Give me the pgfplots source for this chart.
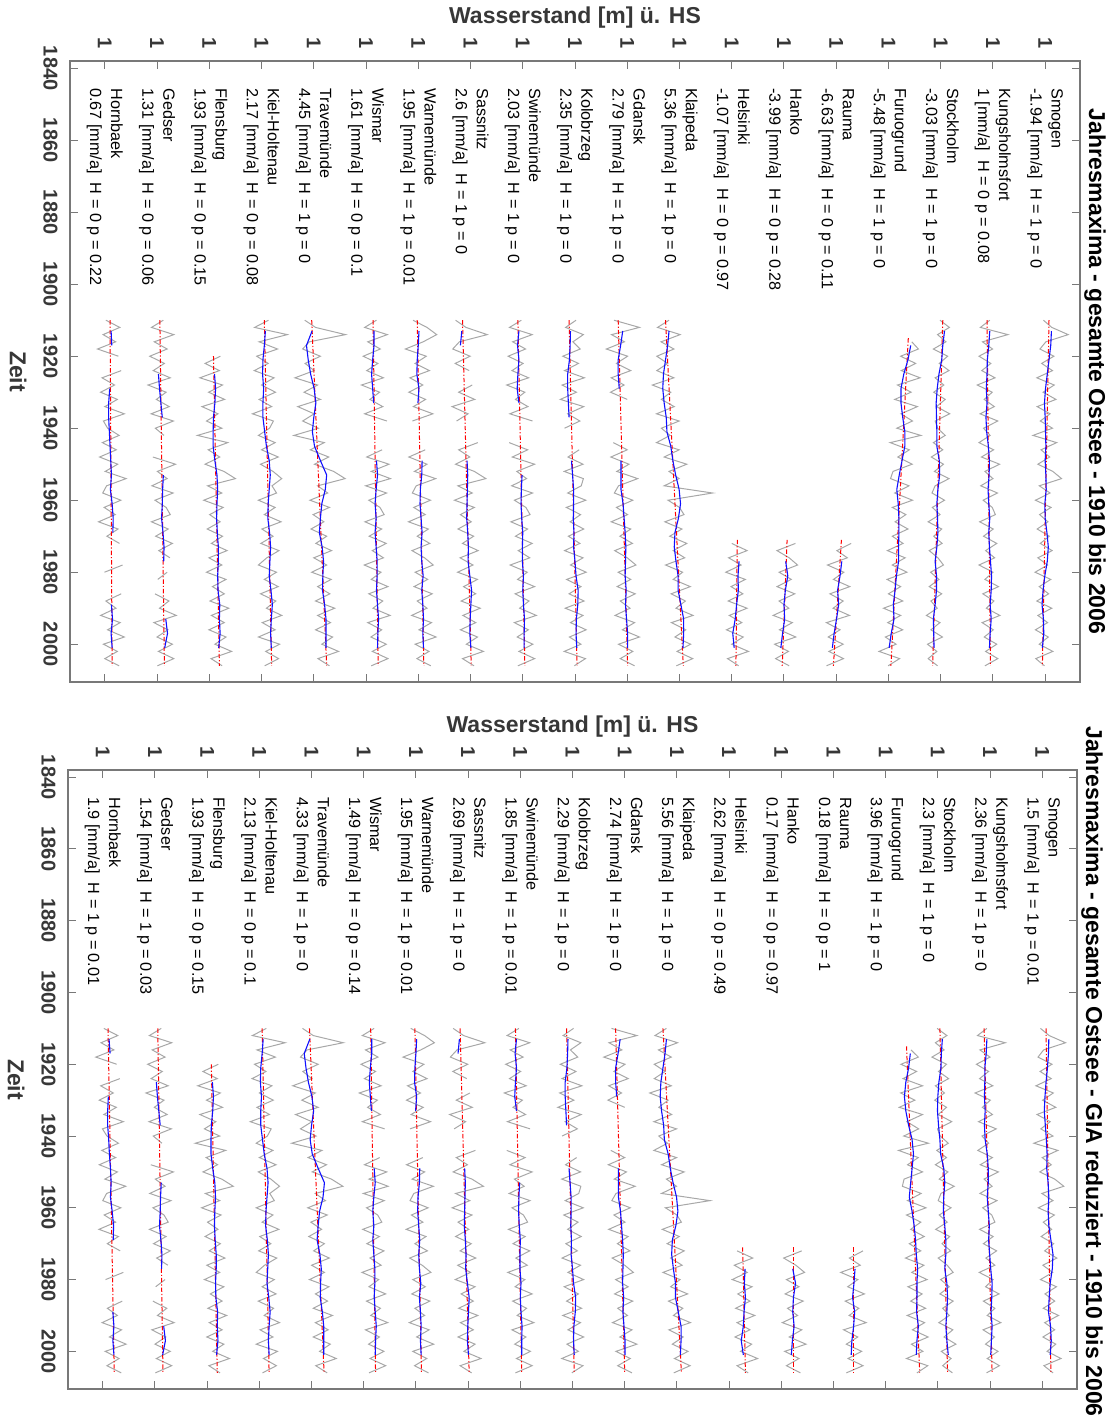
\documentclass[border=0pt]{standalone}
\usepackage{pgfplots}
\pgfplotsset{compat=1.18}
\usepackage{pgfplotstable}
\usepackage{fontspec}
\setmainfont{Liberation Sans}
\definecolor{gdat}{RGB}{168,168,168}
\definecolor{bdat}{RGB}{15,15,255}
\definecolor{rdat}{RGB}{255,0,0}
\definecolor{axc}{RGB}{120,120,120}
\definecolor{txc}{RGB}{55,55,55}

% annual maxima [cm], upper panel (every 2nd year)
\pgfplotstableread{
yr Hb Ge Fl Ki Tr Wi Wa Sa Sw Ko Gd Kl He Ha Ra Fu St Ku Sm
1910 103 118 nan 120 74 130 85 57 96 103 62 70 nan nan nan nan 98 91 95
1912 143 84 nan 80 105 96 125 87 62 73 135 37 nan nan nan nan 125 64 119
1914 95 148 nan 174 191 161 153 148 127 124 55 102 nan nan nan nan 91 143 166
1916 131 92 nan 93 87 105 114 68 71 94 92 47 nan nan nan 167 115 70 102
1918 79 129 nan 146 68 141 63 49 108 115 40 84 nan nan nan 186 79 99 85
1920 139 79 132 86 119 92 123 99 58 65 101 35 nan nan nan 135 120 60 125
1922 nan 121 88 119 75 134 91 56 101 110 69 66 nan nan nan 178 96 94 90
1924 147 89 129 79 101 102 132 96 69 70 110 35 nan nan nan 137 124 68 121
1926 92 138 73 136 46 150 76 nan 117 127 54 84 nan nan nan 191 84 106 76
1928 128 74 138 100 111 87 113 105 54 63 91 22 nan nan nan 126 109 55 126
1930 88 126 98 140 72 139 73 66 106 104 52 75 nan nan nan 165 80 98 94
1932 136 98 144 93 119 111 121 112 79 58 100 48 nan nan nan 118 113 75 131
1934 100 135 79 129 54 148 86 47 115 125 nan 85 nan nan nan 183 88 104 77
1936 156 83 125 74 101 96 142 93 63 79 nan 34 nan nan nan 136 126 63 114
1938 96 147 92 134 68 160 83 60 128 114 nan 99 nan nan nan 169 84 114 86
1940 108 95 136 123 113 nan nan nan nan 70 nan 48 nan nan nan 124 91 73 121
1942 141 120 66 91 43 nan nan nan nan nan nan 73 nan nan nan 193 113 92 65
1944 93 nan 153 139 130 nan nan 121 61 nan 60 34 nan nan nan 105 79 60 133
1946 133 nan 97 100 90 146 120 66 114 112 100 99 nan nan nan 160 106 102 88
1948 85 88 130 148 143 102 73 98 70 80 53 56 nan nan nan 127 73 67 113
1950 137 153 88 97 102 166 125 57 134 123 105 121 nan nan nan 168 108 119 79
1952 101 101 142 133 157 115 89 111 83 69 70 70 nan nan nan 113 82 77 122
1954 161 129 175 158 190 170 150 144 111 124 130 99 nan nan nan 106 124 100 147
1956 105 85 95 130 111 99 94 64 68 118 75 56 nan nan nan 159 84 65 83
1958 94 146 136 143 140 159 83 105 128 79 63 195 nan nan nan 118 75 113 114
1960 146 94 84 91 89 108 135 54 76 131 116 67 nan nan nan 169 111 72 72
1962 98 126 140 139 145 140 87 111 109 75 69 100 nan nan nan 111 76 98 117
1964 130 138 101 108 98 152 120 71 121 116 101 113 nan nan nan 150 98 107 84
1966 82 84 131 156 129 97 72 102 66 86 54 58 nan nan nan 119 64 62 108
1968 138 132 94 101 92 145 129 64 114 125 110 107 nan nan nan 156 103 101 77
1970 106 96 138 133 137 109 97 109 79 81 79 72 nan nan nan 111 80 73 112
1972 142 144 106 98 106 158 133 77 127 114 115 121 100 133 143 142 104 111 86
1974 nan 105 151 150 151 118 82 122 87 70 64 82 144 80 102 97 67 79 120
1976 nan 137 99 115 100 150 118 70 120 123 100 115 91 115 132 148 92 105 79
1978 151 nan 136 91 137 95 143 107 64 87 125 60 127 139 75 111 108 60 107
1980 99 129 92 143 94 143 91 63 113 132 74 109 83 86 122 153 71 100 71
1982 nan 102 148 108 150 115 127 120 85 76 110 82 139 121 92 96 95 77 116
1984 nan nan 109 148 111 163 88 80 134 117 71 131 98 80 139 135 67 116 83
1986 147 94 143 97 146 108 140 115 78 83 123 76 132 131 82 100 103 71 110
1988 103 134 102 141 105 148 97 73 118 126 80 117 90 86 120 141 72 103 76
1990 132 107 156 114 160 120 125 128 91 72 108 90 144 114 91 86 90 81 119
1992 88 155 106 158 111 169 81 78 139 123 65 139 93 69 138 135 59 120 79
1994 144 91 143 102 148 105 138 115 76 87 121 77 129 124 72 98 98 69 107
1996 108 131 99 139 105 145 102 71 116 132 86 118 85 87 111 141 72 101 72
1998 156 100 148 91 154 114 151 120 84 84 135 87 133 134 77 91 105 75 109
2000 96 144 116 152 123 158 91 88 129 117 75 132 100 73 120 122 62 111 83
2002 136 104 164 112 171 118 131 137 89 69 116 93 148 113 79 73 89 79 122
2004 100 148 105 149 112 163 96 77 134 130 80 138 88 76 121 132 64 114 73
2006 141 101 137 109 145 115 136 110 86 98 121 91 120 115 72 99 91 77 98
}\grayA

% annual maxima [cm], lower panel, stations with a notable GIA correction
\pgfplotstableread{
yr Hb He Ha Ra Fu St Ku Sm
1910 103 nan nan nan nan 98 91 95
1912 143 nan nan nan nan 126 64 120
1914 95 nan nan nan nan 93 144 167
1916 132 nan nan nan 173 118 71 104
1918 80 nan nan nan 194 83 100 88
1920 140 nan nan nan 144 125 61 128
1922 nan nan nan nan 189 102 96 94
1924 149 nan nan nan 150 131 70 126
1926 94 nan nan nan 206 93 108 82
1928 130 nan nan nan 143 119 57 132
1930 90 nan nan nan 184 91 101 101
1932 139 nan nan nan 139 125 78 139
1934 103 nan nan nan 206 101 107 85
1936 159 nan nan nan 161 140 67 123
1938 99 nan nan nan 195 99 118 96
1940 112 nan nan nan 152 107 77 131
1942 145 nan nan nan 223 130 96 76
1944 97 nan nan nan 137 97 65 145
1946 137 nan nan nan 194 125 107 100
1948 90 nan nan nan 163 93 72 126
1950 142 nan nan nan 206 129 124 93
1952 106 nan nan nan 153 104 83 136
1954 166 nan nan nan 148 147 106 162
1956 111 nan nan nan 202 109 71 99
1958 100 nan nan nan 163 101 120 131
1960 152 nan nan nan 216 138 79 89
1962 104 nan nan nan 160 104 105 135
1964 137 nan nan nan 201 127 114 103
1966 89 nan nan nan 172 94 70 127
1968 145 nan nan nan 211 134 109 97
1970 113 nan nan nan 168 112 81 133
1972 150 123 159 185 201 137 119 107
1974 nan 168 107 146 157 101 88 142
1976 nan 115 142 177 210 127 114 102
1978 159 152 167 121 175 144 69 130
1980 108 109 115 170 219 108 109 95
1982 nan 166 151 141 164 133 87 141
1984 nan 125 111 189 205 106 126 108
1986 156 160 163 134 172 144 81 136
1988 113 119 118 173 215 114 114 103
1990 142 174 147 145 162 133 92 147
1992 98 123 103 194 212 103 131 107
1994 154 160 159 129 177 143 80 136
1996 119 117 123 170 222 118 113 102
1998 167 165 171 137 174 152 87 139
2000 107 133 110 181 207 110 123 114
2002 147 182 151 142 160 138 92 154
2004 112 123 115 185 221 114 127 105
2006 153 155 155 137 190 142 90 131
}\grayB

% smoothed series [cm], upper panel
\pgfplotstableread{
yr Hb Ge Fl Ki Tr Wi Wa Sa Sw Ko Gd Kl He Ha Ra Fu St Ku Sm
1913 118 nan nan 111 95 123 102 75 89 87 87 70 nan nan nan nan 111 91 118
1917 120 nan nan 108 79 123 100 71 85 86 81 66 nan nan nan 164 106 88 116
1921 nan nan nan 104 84 119 97 nan 89 84 74 60 nan nan nan 156 103 84 111
1925 nan 104 115 103 91 116 96 nan 86 79 74 54 nan nan nan 144 95 83 106
1929 114 107 118 106 101 119 102 nan 84 79 77 52 nan nan nan 136 90 81 101
1933 111 111 116 104 106 122 99 nan 89 81 nan 56 nan nan nan 136 87 83 98
1937 111 115 112 104 100 nan nan nan nan 83 nan 62 nan nan nan 141 88 80 100
1941 113 nan 111 109 96 nan nan nan nan nan nan 64 nan nan nan 147 89 82 101
1945 115 nan 111 114 102 nan nan nan nan nan nan 75 nan nan nan 147 89 87 102
1949 117 nan 116 122 119 130 111 90 nan 90 82 81 nan nan nan 139 96 90 100
1953 119 118 122 125 137 133 110 92 98 93 82 89 nan nan nan 131 97 89 102
1957 116 116 124 122 133 129 106 91 96 96 82 99 nan nan nan 124 92 86 103
1961 121 115 122 119 123 126 105 90 95 96 88 103 nan nan nan 128 89 88 99
1965 124 113 121 118 119 129 108 89 97 95 91 97 nan nan nan 130 91 91 100
1969 123 117 123 123 116 126 111 92 100 97 94 87 nan nan nan 130 92 88 105
1973 nan 120 126 126 124 129 108 94 99 96 96 85 nan nan nan 129 89 90 109
1977 nan 119 126 124 128 132 110 93 99 100 95 90 121 105 116 129 84 93 106
1981 nan nan 124 122 126 132 114 98 102 103 94 96 118 111 111 123 88 96 99
1985 nan nan 125 127 125 130 110 103 100 109 97 96 119 104 104 119 88 95 94
1989 119 nan 130 131 131 133 113 101 102 108 95 104 114 100 107 114 84 92 91
1993 122 125 129 128 135 136 115 99 105 104 98 112 110 102 101 116 79 95 95
1997 118 130 131 126 135 134 113 98 104 103 101 112 103 96 94 108 80 92 96
2001 121 122 127 128 135 133 115 101 104 105 101 110 107 91 89 102 81 90 92
}\blueA

% smoothed series [cm], lower panel, GIA corrected stations
\pgfplotstableread{
yr Hb He Ha Ra Fu St Ku Sm
1913 118 nan nan nan nan 113 91 119
1917 121 nan nan nan 171 110 89 118
1921 nan nan nan nan 166 109 85 115
1925 nan nan nan nan 158 103 85 111
1929 116 nan nan nan 154 100 84 108
1933 114 nan nan nan 158 99 86 106
1937 114 nan nan nan 166 102 84 109
1941 117 nan nan nan 176 106 86 112
1945 119 nan nan nan 180 108 92 114
1949 122 nan nan nan 176 117 95 113
1953 124 nan nan nan 172 120 95 117
1957 122 nan nan nan 168 117 92 119
1961 127 nan nan nan 176 116 95 117
1965 131 nan nan nan 182 120 98 119
1969 130 nan nan nan 186 123 96 125
1973 nan nan nan nan 188 123 99 131
1977 nan 146 133 162 192 120 102 129
1981 nan 144 141 159 190 126 106 123
1985 nan 147 135 155 190 128 105 120
1989 129 143 133 161 189 126 103 118
1993 132 141 137 158 194 123 106 124
1997 129 135 132 153 190 126 104 126
2001 132 141 129 151 188 130 102 123
}\blueB

\newcommand{\G}[3]{\addplot[gdat, line width=0.5pt] table[x expr=\thisrow{#2}/100+#3, y=yr] {#1};}
\newcommand{\B}[3]{\addplot[bdat, line width=0.55pt] table[x expr=\thisrow{#2}/100+#3, y=yr] {#1};}
\newcommand{\R}[3]{\addplot[rdat, line width=0.5pt, dash pattern=on 2.2pt off 1pt on 0.6pt off 1pt] coordinates {(#1,#3) (#2,2006)};}
\newcommand{\lab}[3]{\node[rotate=-90, anchor=west, align=left, inner sep=0pt, font=\fontsize{8.1}{10.5}\selectfont] at (axis cs:#1,1845.5) {#2\\#3};}

\pgfplotsset{
  stackax/.style={
    scale only axis, anchor=north west, clip=false,
    xmin=0, xmax=29, ymin=1838, ymax=2010.5, y dir=reverse,
    unbounded coords=jump,
    xtick={1,2.5,...,28.1},
    xticklabels={1,1,1,1,1,1,1,1,1,1,1,1,1,1,1,1,1,1,1},
    ytick={1840,1860,1880,1900,1920,1940,1960,1980,2000},
    yticklabels={1840,1860,1880,1900,1920,1940,1960,1980,2000},
    tick pos=both, xticklabel pos=upper, yticklabel pos=lower,
    tick align=inside, major tick length=4pt,
    tick style={color=axc, line width=0.5pt},
    axis line style={color=axc, line width=0.6pt},
    xticklabel style={rotate=-90, anchor=east, inner sep=6pt, text=txc, font=\bfseries\fontsize{10}{12}\selectfont},
    yticklabel style={rotate=-90, anchor=north, inner sep=6pt, text=txc, font=\bfseries\fontsize{10}{12}\selectfont},
  }
}

\begin{document}
\begin{tikzpicture}
\path[use as bounding box] (0,0) rectangle (557.5pt,-710.5pt);

% ---------------- upper panel ----------------
\begin{axis}[stackax, at={(35pt,-30.5pt)}, width=505pt, height=310.5pt]
\G{\grayA}{Hb}{0}\G{\grayA}{Ge}{1.5}\G{\grayA}{Fl}{3}\G{\grayA}{Ki}{4.5}
\G{\grayA}{Tr}{6}\G{\grayA}{Wi}{7.5}\G{\grayA}{Wa}{9}\G{\grayA}{Sa}{10.5}
\G{\grayA}{Sw}{12}\G{\grayA}{Ko}{13.5}\G{\grayA}{Gd}{15}\G{\grayA}{Kl}{16.5}
\G{\grayA}{He}{18}\G{\grayA}{Ha}{19.5}\G{\grayA}{Ra}{21}\G{\grayA}{Fu}{22.5}
\G{\grayA}{St}{24}\G{\grayA}{Ku}{25.5}\G{\grayA}{Sm}{27}
\R{1.15}{1.21}{1910}\R{2.58}{2.71}{1910}\R{4.12}{4.29}{1920}\R{5.58}{5.79}{1910}
\R{6.94}{7.37}{1910}\R{8.70}{8.85}{1910}\R{9.97}{10.16}{1910}\R{11.27}{11.52}{1910}
\R{12.86}{13.06}{1910}\R{14.33}{14.56}{1910}\R{15.74}{16.01}{1910}\R{17.10}{17.61}{1910}
\R{19.16}{19.12}{1971}\R{20.59}{20.45}{1971}\R{22.15}{21.92}{1971}\R{24.07}{23.57}{1915}
\R{25.06}{24.77}{1910}\R{26.33}{26.43}{1910}\R{28.11}{27.92}{1910}
\B{\blueA}{Hb}{0}\B{\blueA}{Ge}{1.5}\B{\blueA}{Fl}{3}\B{\blueA}{Ki}{4.5}
\B{\blueA}{Tr}{6}\B{\blueA}{Wi}{7.5}\B{\blueA}{Wa}{9}\B{\blueA}{Sa}{10.5}
\B{\blueA}{Sw}{12}\B{\blueA}{Ko}{13.5}\B{\blueA}{Gd}{15}\B{\blueA}{Kl}{16.5}
\B{\blueA}{He}{18}\B{\blueA}{Ha}{19.5}\B{\blueA}{Ra}{21}\B{\blueA}{Fu}{22.5}
\B{\blueA}{St}{24}\B{\blueA}{Ku}{25.5}\B{\blueA}{Sm}{27}
\lab{1}{Hornbaek}{0.67 [mm/a]\ \ H = 0 p = 0.22}
\lab{2.5}{Gedser}{1.31 [mm/a]\ \ H = 0 p = 0.06}
\lab{4}{Flensburg}{1.93 [mm/a]\ \ H = 0 p = 0.15}
\lab{5.5}{Kiel-Holtenau}{2.17 [mm/a]\ \ H = 0 p = 0.08}
\lab{7}{Travemünde}{4.45 [mm/a]\ \ H = 1 p = 0}
\lab{8.5}{Wismar}{1.61 [mm/a]\ \ H = 0 p = 0.1}
\lab{10}{Warnemünde}{1.95 [mm/a]\ \ H = 1 p = 0.01}
\lab{11.5}{Sassnitz}{2.6 [mm/a]\ \ H = 1 p = 0}
\lab{13}{Swinemünde}{2.03 [mm/a]\ \ H = 1 p = 0}
\lab{14.5}{Kolobrzeg}{2.35 [mm/a]\ \ H = 1 p = 0}
\lab{16}{Gdansk}{2.79 [mm/a]\ \ H = 1 p = 0}
\lab{17.5}{Klaipeda}{5.36 [mm/a]\ \ H = 1 p = 0}
\lab{19}{Helsinki}{-1.07 [mm/a]\ \ H = 0 p = 0.97}
\lab{20.5}{Hanko}{-3.99 [mm/a]\ \ H = 0 p = 0.28}
\lab{22}{Rauma}{-6.63 [mm/a]\ \ H = 0 p = 0.11}
\lab{23.5}{Furuogrund}{-5.48 [mm/a]\ \ H = 1 p = 0}
\lab{25}{Stockholm}{-3.03 [mm/a]\ \ H = 1 p = 0}
\lab{26.5}{Kungsholmsfort}{1 [mm/a]\ \ H = 0 p = 0.08}
\lab{28}{Smogen}{-1.94 [mm/a]\ \ H = 1 p = 0}
\node[text=txc, font=\bfseries\fontsize{11.5}{13}\selectfont] at ([yshift=21.5pt]axis description cs:0.5,1) {Wasserstand [m] ü. HS};
\node[rotate=-90, text=txc, font=\bfseries\fontsize{11.5}{13}\selectfont] at ([xshift=-26pt]axis description cs:0,0.5) {Zeit};
\node[rotate=-90, anchor=base, font=\bfseries\fontsize{11.5}{13}\selectfont] at ([xshift=4.5pt]axis description cs:1,0.5) {Jahresmaxima - gesamte Ostsee - 1910 bis 2006};
\end{axis}

% ---------------- lower panel ----------------
\begin{axis}[stackax, at={(34pt,-385pt)}, width=504.5pt, height=309.5pt]
\G{\grayB}{Hb}{0}\G{\grayA}{Ge}{1.5}\G{\grayA}{Fl}{3}\G{\grayA}{Ki}{4.5}
\G{\grayA}{Tr}{6}\G{\grayA}{Wi}{7.5}\G{\grayA}{Wa}{9}\G{\grayA}{Sa}{10.5}
\G{\grayA}{Sw}{12}\G{\grayA}{Ko}{13.5}\G{\grayA}{Gd}{15}\G{\grayA}{Kl}{16.5}
\G{\grayB}{He}{18}\G{\grayB}{Ha}{19.5}\G{\grayB}{Ra}{21}\G{\grayB}{Fu}{22.5}
\G{\grayB}{St}{24}\G{\grayB}{Ku}{25.5}\G{\grayB}{Sm}{27}
\R{1.15}{1.33}{1910}\R{2.58}{2.73}{1910}\R{4.12}{4.29}{1920}\R{5.58}{5.78}{1910}
\R{6.94}{7.36}{1910}\R{8.70}{8.84}{1910}\R{9.97}{10.16}{1910}\R{11.27}{11.53}{1910}
\R{12.86}{13.04}{1910}\R{14.33}{14.55}{1910}\R{15.74}{16.00}{1910}\R{17.10}{17.63}{1910}
\R{19.39}{19.47}{1971}\R{20.85}{20.85}{1971}\R{22.57}{22.57}{1971}\R{24.10}{24.48}{1915}
\R{25.06}{25.28}{1910}\R{26.33}{26.56}{1910}\R{28.11}{28.25}{1910}
\B{\blueB}{Hb}{0}\B{\blueA}{Ge}{1.5}\B{\blueA}{Fl}{3}\B{\blueA}{Ki}{4.5}
\B{\blueA}{Tr}{6}\B{\blueA}{Wi}{7.5}\B{\blueA}{Wa}{9}\B{\blueA}{Sa}{10.5}
\B{\blueA}{Sw}{12}\B{\blueA}{Ko}{13.5}\B{\blueA}{Gd}{15}\B{\blueA}{Kl}{16.5}
\B{\blueB}{He}{18}\B{\blueB}{Ha}{19.5}\B{\blueB}{Ra}{21}\B{\blueB}{Fu}{22.5}
\B{\blueB}{St}{24}\B{\blueB}{Ku}{25.5}\B{\blueB}{Sm}{27}
\lab{1}{Hornbaek}{1.9 [mm/a]\ \ H = 1 p = 0.01}
\lab{2.5}{Gedser}{1.54 [mm/a]\ \ H = 1 p = 0.03}
\lab{4}{Flensburg}{1.93 [mm/a]\ \ H = 0 p = 0.15}
\lab{5.5}{Kiel-Holtenau}{2.13 [mm/a]\ \ H = 0 p = 0.1}
\lab{7}{Travemünde}{4.33 [mm/a]\ \ H = 1 p = 0}
\lab{8.5}{Wismar}{1.49 [mm/a]\ \ H = 0 p = 0.14}
\lab{10}{Warnemünde}{1.95 [mm/a]\ \ H = 1 p = 0.01}
\lab{11.5}{Sassnitz}{2.69 [mm/a]\ \ H = 1 p = 0}
\lab{13}{Swinemünde}{1.85 [mm/a]\ \ H = 1 p = 0.01}
\lab{14.5}{Kolobrzeg}{2.29 [mm/a]\ \ H = 1 p = 0}
\lab{16}{Gdansk}{2.74 [mm/a]\ \ H = 1 p = 0}
\lab{17.5}{Klaipeda}{5.56 [mm/a]\ \ H = 1 p = 0}
\lab{19}{Helsinki}{2.62 [mm/a]\ \ H = 0 p = 0.49}
\lab{20.5}{Hanko}{0.17 [mm/a]\ \ H = 0 p = 0.97}
\lab{22}{Rauma}{0.18 [mm/a]\ \ H = 0 p = 1}
\lab{23.5}{Furuogrund}{3.96 [mm/a]\ \ H = 1 p = 0}
\lab{25}{Stockholm}{2.3 [mm/a]\ \ H = 1 p = 0}
\lab{26.5}{Kungsholmsfort}{2.36 [mm/a]\ \ H = 1 p = 0}
\lab{28}{Smogen}{1.5 [mm/a]\ \ H = 1 p = 0.01}
\node[text=txc, font=\bfseries\fontsize{11.5}{13}\selectfont] at ([yshift=21.5pt]axis description cs:0.5,1) {Wasserstand [m] ü. HS};
\node[rotate=-90, text=txc, font=\bfseries\fontsize{11.5}{13}\selectfont] at ([xshift=-26pt]axis description cs:0,0.5) {Zeit};
\node[rotate=-90, anchor=base, font=\bfseries\fontsize{11.5}{13}\selectfont] at ([xshift=4.5pt,yshift=4pt]axis description cs:1,0.5) {Jahresmaxima - gesamte Ostsee - GIA reduziert - 1910 bis 2006};
\end{axis}
\end{tikzpicture}
\end{document}
